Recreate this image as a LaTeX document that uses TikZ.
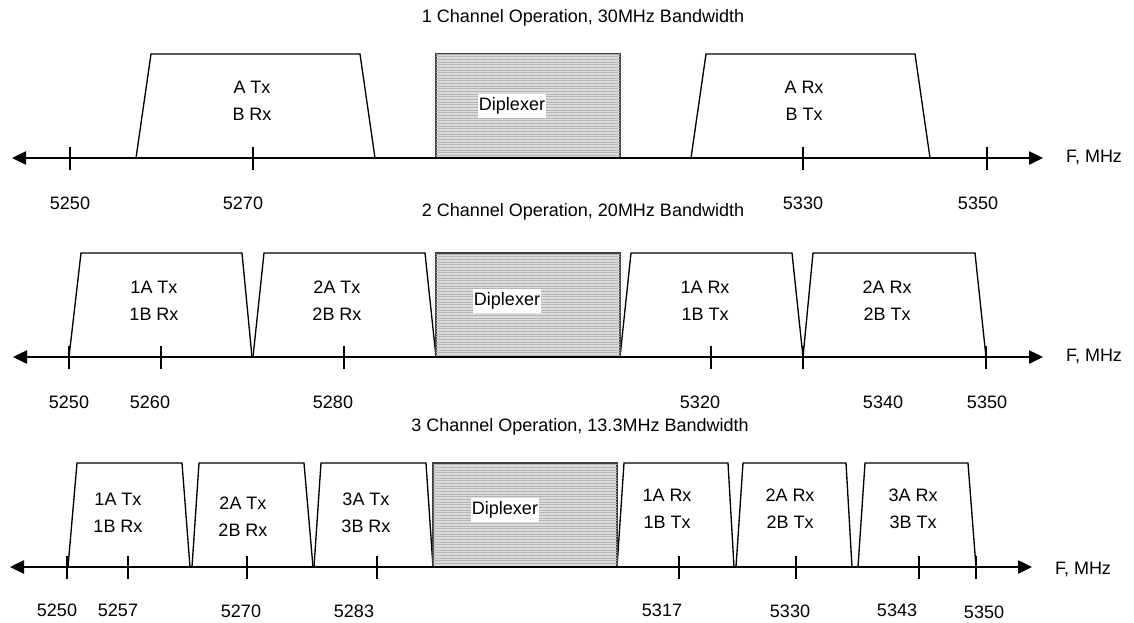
\documentclass[tikz,border=0pt]{standalone}
\usepackage{fontspec}
\setmainfont{Liberation Sans}
\usetikzlibrary{arrows.meta, patterns.meta}

\begin{document}
\begin{tikzpicture}[x=0.75pt, y=-0.75pt, line width=1pt,
    every node/.style={font=\fontsize{13.5}{16}\selectfont},
    >={Triangle[length=10.5pt, width=10pt]},
    band/.style={draw=black, line width=1pt},
    dipl/.style={draw=black!75, line width=0.8pt, fill=black!14,
      postaction={pattern={Lines[distance=2pt, line width=0.5pt]}, pattern color=black!30}},
    diplabel/.style={fill=white, inner xsep=1pt, inner ysep=2.5pt},
    chan/.style={align=center, font=\fontsize{13.5}{20}\selectfont},
    axisline/.style={line width=1pt, <->},
    tickmark/.style={line width=0.8pt}]

    \useasboundingbox (0,0) rectangle (1134,622);

    % ---- 1 channel ----
    \node (title1) at (583,18) {1 Channel Operation, 30MHz Bandwidth};
    \draw[band] (136,158) -- (151,54) -- (360,54) -- (375,158) -- cycle;
    \draw[band] (691,158) -- (706,54) -- (915,54) -- (930,158) -- cycle;
    \draw[dipl] (436,54) rectangle (620,158);
    \node[diplabel] (dip1) at (512,106) {Diplexer};
    \node[chan] (ch1a) at (252,101) {A Tx\\B Rx};
    \node[chan] (ch1b) at (804,101) {A Rx\\B Tx};
    \coordinate (ax1l) at (12,158);
    \coordinate (ax1r) at (1043,158);
    \draw[axisline] (ax1l) -- (ax1r);
    \node (unit1) at (1094,157) {F, MHz};
    \foreach \x in {70, 253, 803, 987}
      \draw[tickmark] (\x,146.5) -- (\x,169.5);
    \foreach \lx/\f in {70/5250, 243/5270, 803/5330, 978/5350}
      \node (f1\f) at (\lx,203) {\f};

    % ---- 2 channels ----
    \node (title2) at (583,212) {2 Channel Operation, 20MHz Bandwidth};
    \draw[band] (69,357) -- (81,253) -- (242,253) -- (252,357) -- cycle;
    \draw[band] (253,357) -- (264,253) -- (425,253) -- (436,357) -- cycle;
    \draw[band] (620,357) -- (631,253) -- (792,253) -- (803,357) -- cycle;
    \draw[band] (803,357) -- (813,253) -- (975,253) -- (986,357) -- cycle;
    \draw[dipl] (436,253) rectangle (620,357);
    \node[diplabel] (dip2) at (507,301) {Diplexer};
    \node[chan] (ch2a) at (154,301) {1A Tx\\1B Rx};
    \node[chan] (ch2b) at (337,301) {2A Tx\\2B Rx};
    \node[chan] (ch2c) at (705,301) {1A Rx\\1B Tx};
    \node[chan] (ch2d) at (887,301) {2A Rx\\2B Tx};
    \coordinate (ax2l) at (13,357);
    \coordinate (ax2r) at (1043,357);
    \draw[axisline] (ax2l) -- (ax2r);
    \node (unit2) at (1094,356) {F, MHz};
    \foreach \x in {69, 161, 344, 711, 803, 986}
      \draw[tickmark] (\x,345.5) -- (\x,368.5);
    \foreach \lx/\f in {69/5250, 150/5260, 333/5280, 700/5320, 883/5340, 987/5350}
      \node (f2\f) at (\lx,402) {\f};

    % ---- 3 channels ----
    \node (title3) at (580,427) {3 Channel Operation, 13.3MHz Bandwidth};
    \draw[band] (68,567) -- (77,463) -- (182,463) -- (190,567) -- cycle;
    \draw[band] (192,567) -- (199,463) -- (304,463) -- (313,567) -- cycle;
    \draw[band] (314,567) -- (321,463) -- (426,463) -- (433,567) -- cycle;
    \draw[band] (617,567) -- (624,463) -- (728,463) -- (734,567) -- cycle;
    \draw[band] (736,567) -- (743,463) -- (846,463) -- (852,567) -- cycle;
    \draw[band] (858,567) -- (865,463) -- (968,463) -- (976,567) -- cycle;
    \draw[dipl] (433,463) rectangle (617,567);
    \node[diplabel] (dip3) at (505,510) {Diplexer};
    \node[chan] (ch3a) at (118,513) {1A Tx\\1B Rx};
    \node[chan] (ch3b) at (243,517) {2A Tx\\2B Rx};
    \node[chan] (ch3c) at (366,513) {3A Tx\\3B Rx};
    \node[chan] (ch3d) at (667,509) {1A Rx\\1B Tx};
    \node[chan] (ch3e) at (790,509) {2A Rx\\2B Tx};
    \node[chan] (ch3f) at (913,509) {3A Rx\\3B Tx};
    \coordinate (ax3l) at (10,567);
    \coordinate (ax3r) at (1032,567);
    \draw[axisline] (ax3l) -- (ax3r);
    \node (unit3) at (1083,569) {F, MHz};
    \foreach \x in {67, 128, 247, 377, 679, 796, 919, 976}
      \draw[tickmark] (\x,555.5) -- (\x,578.5);
    \foreach \lx/\ly/\f in {57/610/5250, 118/610/5257, 241/611/5270, 354/611/5283,
                            662/610/5317, 790/611/5330, 897/610/5343, 984/612/5350}
      \node (f3\f) at (\lx,\ly) {\f};

\end{tikzpicture}
\end{document}
